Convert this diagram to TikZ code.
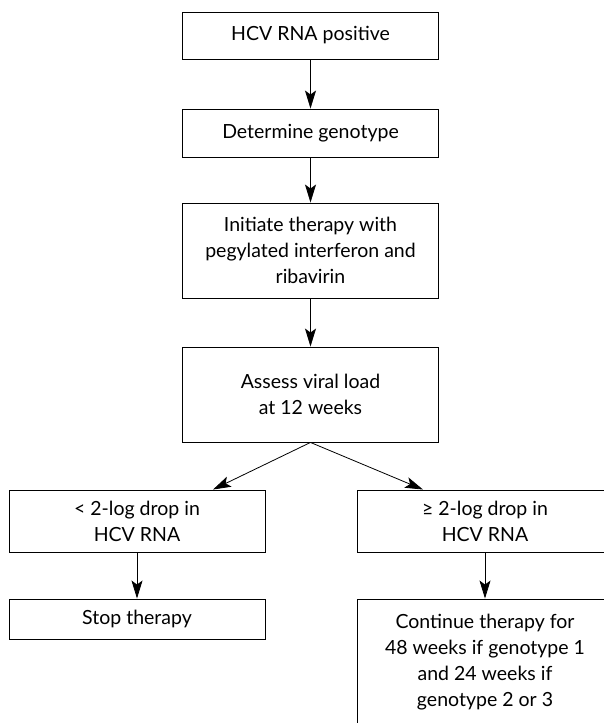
\documentclass[tikz,border=0pt]{standalone}
\usepackage{fontspec}
\setmainfont{Lato}
\usepackage{tikz}
\usetikzlibrary{positioning,calc,arrows.meta}

\begin{document}
\begin{tikzpicture}[x=1pt,y=1pt,
  box/.style={rectangle,draw,line width=0.9pt,align=center,inner sep=0pt,
    minimum width=256pt,font=\fontsize{19.5pt}{26pt}\selectfont},
  arr/.style={draw,line width=0.8pt,-{Stealth[length=18pt,width=11pt,inset=4pt]}}]
\useasboundingbox (0,0) rectangle (604,723);
\clip (0,0) rectangle (604,723);
% main column
\node[box,minimum height=47pt] (pos) at (310.5,687.5) {HCV RNA positive};
\node[box,minimum height=48pt] (geno) at (310.5,590) {Determine genotype};
\node[box,minimum height=95pt] (init) at (310.5,472.5) {Initiate therapy with\\pegylated interferon and\\ribavirin};
\node[box,minimum height=95pt] (assess) at (310.5,328.5) {Assess viral load\\at 12 weeks};
% two branches
\node[box,minimum height=62pt] (low) at (137,202) {< 2-log drop in\\HCV RNA};
\node[box,minimum height=40pt] (stop) at (137,104) {Stop therapy};
\node[box,minimum height=62pt] (high) at (485,202) {≥ 2-log drop in\\HCV RNA};
\node[box,minimum height=126pt] (cont) at (485,61) {Continue therapy for\\48 weeks if genotype 1\\and 24 weeks if\\genotype 2 or 3};
\draw[arr] (pos) -- (geno);
\draw[arr] (geno) -- (init);
\draw[arr] (init) -- (assess);
\draw[arr] (assess.south) -- ([xshift=76pt]low.north);
\draw[arr] (assess.south) -- ([xshift=-62pt]high.north);
\draw[arr] (low) -- (stop);
\draw[arr] (high) -- (cont);
\end{tikzpicture}
\end{document}
